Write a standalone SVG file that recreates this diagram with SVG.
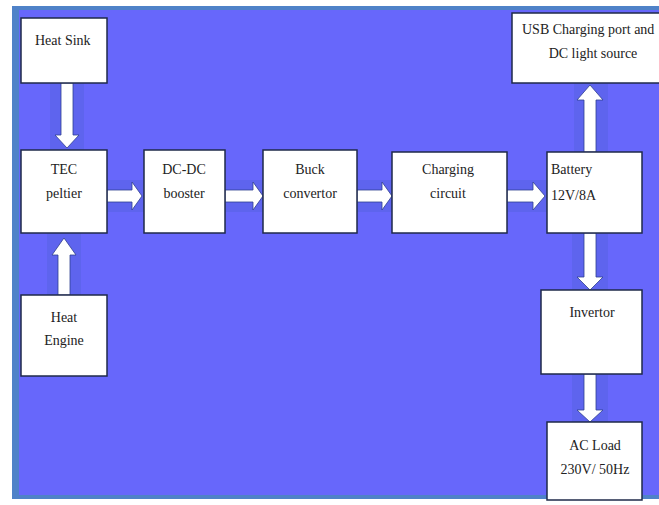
<svg xmlns="http://www.w3.org/2000/svg" width="659" height="505" viewBox="0 0 659 505">
  <style>
    .box { fill: #ffffff; stroke: #1f2a4a; stroke-width: 1.5; }
    .lbl { font-family: 'Liberation Serif', 'Times New Roman', 'DejaVu Serif', serif; font-size: 14px; fill: #222222; }
    .arr { fill: #ffffff; stroke: #2e3f8f; stroke-width: 0.8; }
    .shade { fill: #5e64ee; }
  </style>
  <rect x="0" y="0" width="659" height="505" fill="#ffffff"/>
  <rect x="12" y="6" width="647" height="493" fill="#4f82c8"/>
  <rect x="19" y="10" width="640" height="485" fill="#6767fb"/>

  <g id="shading">
    <rect class="shade" x="50" y="83" width="34" height="67"/>
    <rect class="shade" x="107" y="180" width="440" height="32"/>
    <rect class="shade" x="47" y="233" width="34" height="62"/>
    <rect class="shade" x="574" y="83" width="34" height="69"/>
    <rect class="shade" x="572" y="233" width="36" height="57"/>
    <rect class="shade" x="572" y="374" width="36" height="48"/>
  </g>

  <g id="connectors">
    <polygon class="arr" points="61,83 73,83 73,135 79,135 67,148 55,135 61,135"/>
    <polygon class="arr" points="58,295 70,295 70,255 76,255 64,238 52,255 58,255"/>
    <polygon class="arr" points="107,190 132,190 132,182 142,196 132,210 132,202 107,202"/>
    <polygon class="arr" points="225,190 253,190 253,182 263,196 253,210 253,202 225,202"/>
    <polygon class="arr" points="357,190 382,190 382,182 392,196 382,210 382,202 357,202"/>
    <polygon class="arr" points="507,190 533,190 533,182 545,196 533,210 533,202 507,202"/>
    <polygon class="arr" points="584,152 596,152 596,100 603,100 590,85 577,100 584,100"/>
    <polygon class="arr" points="584,233 596,233 596,277 603,277 590,290 577,277 584,277"/>
    <polygon class="arr" points="584,374 596,374 596,410 603,410 590,422 577,410 584,410"/>
  </g>

  <g font-family="'Liberation Serif', 'Times New Roman', serif">
  <g id="heat-sink">
    <rect class="box" x="21" y="18" width="86" height="65"/>
    <text class="lbl" x="35" y="45">Heat Sink</text>
  </g>
  <g id="tec-peltier">
    <rect class="box" x="21" y="150" width="86" height="83"/>
    <text class="lbl" x="64" y="174" text-anchor="middle">TEC</text>
    <text class="lbl" x="64" y="198" text-anchor="middle">peltier</text>
  </g>
  <g id="heat-engine">
    <rect class="box" x="21" y="295" width="86" height="81"/>
    <text class="lbl" x="64" y="322" text-anchor="middle">Heat</text>
    <text class="lbl" x="64" y="345" text-anchor="middle">Engine</text>
  </g>
  <g id="dc-dc-booster">
    <rect class="box" x="144" y="150" width="81" height="83"/>
    <text class="lbl" x="184" y="174" text-anchor="middle">DC-DC</text>
    <text class="lbl" x="184" y="198" text-anchor="middle">booster</text>
  </g>
  <g id="buck-convertor">
    <rect class="box" x="263" y="150" width="94" height="83"/>
    <text class="lbl" x="310" y="174" text-anchor="middle">Buck</text>
    <text class="lbl" x="310" y="198" text-anchor="middle">convertor</text>
  </g>
  <g id="charging-circuit">
    <rect class="box" x="392" y="152" width="115" height="81"/>
    <text class="lbl" x="448" y="174" text-anchor="middle">Charging</text>
    <text class="lbl" x="448" y="198" text-anchor="middle">circuit</text>
  </g>
  <g id="battery">
    <rect class="box" x="547" y="152" width="95" height="81"/>
    <text class="lbl" x="551" y="174">Battery</text>
    <text class="lbl" x="551" y="200">12V/8A</text>
  </g>
  <g id="usb-charging">
    <rect class="box" x="512" y="13" width="152" height="70"/>
    <text class="lbl" x="522" y="34">USB Charging port and</text>
    <text class="lbl" x="593" y="58" text-anchor="middle">DC light source</text>
  </g>
  <g id="invertor">
    <rect class="box" x="541" y="290" width="101" height="84"/>
    <text class="lbl" x="592" y="317" text-anchor="middle">Invertor</text>
  </g>
  <g id="ac-load">
    <rect class="box" x="547" y="422" width="95" height="78"/>
    <text class="lbl" x="595" y="450" text-anchor="middle">AC Load</text>
    <text class="lbl" x="595" y="474" text-anchor="middle">230V/ 50Hz</text>
  </g>
  </g>
</svg>
